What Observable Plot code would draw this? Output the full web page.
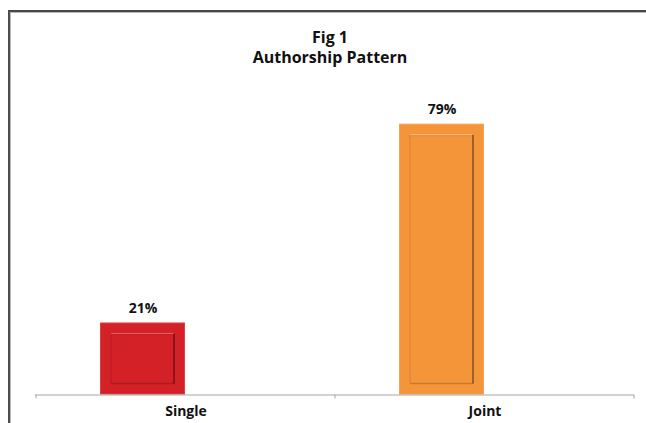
<!DOCTYPE html>
<html>
<head>
<meta charset="utf-8">
<script src="https://cdn.jsdelivr.net/npm/d3@7"></script>
<script src="https://cdn.jsdelivr.net/npm/@observablehq/plot@0.6"></script>
<style>
  html, body { margin: 0; padding: 0; background: #fff; overflow: hidden; }
  body { width: 646px; height: 423px; position: relative; font-family: "Open Sans", sans-serif; }
  #frame { position: absolute; left: 8px; top: 10px; width: 700px; height: 500px;
           border-top: 2px solid #474747; border-left: 2px solid #4d4d4d;
           box-shadow: inset 1px 1px 0 #b8b8b8; }
  #title { position: absolute; left: 0; top: 27px; width: 660px; text-align: center;
           font-weight: bold; font-size: 16px; line-height: 20px; color: #111; }
  #chart { position: absolute; left: 0; top: 0; }
</style>
</head>
<body>
<div id="frame"></div>
<div id="title">Fig 1<br>Authorship Pattern</div>
<div id="chart"></div>
<script>
const categories = ["Single", "Joint"];
const values = [21, 79];
const colors = ["#D42027", "#F5953A"];
const yMax = 90;

const data = categories.map((c, i) => ({category: c, value: values[i], color: colors[i]}));

const insetL = 64, insetR = 150, bevel = 11;

function bandW(x) {
  return typeof x.bandwidth === "function" ? x.bandwidth() : x.bandwidth;
}

function boundaryTicks(index, scales) {
  const x = scales.x;
  const bw = bandW(x);
  const y0 = scales.y(0);
  const edges = [...categories.map(c => x(c)), x(categories[categories.length - 1]) + bw];
  const g = d3.create("svg:g");
  g.selectAll("line").data(edges).join("line")
    .attr("x1", d => d).attr("x2", d => d)
    .attr("y1", y0).attr("y2", y0 + 4)
    .attr("stroke", "#a6a6a6");
  return g.node();
}

// bevelled inner edges of each bar, placed through the scales
function bevelEdges(index, scales) {
  const x = scales.x, y = scales.y;
  const g = d3.create("svg:g");
  for (const d of data) {
    const l = x(d.category) + insetL + bevel;
    const r = x(d.category) + bandW(x) - insetR - bevel;
    const t = y(d.value) + bevel;
    const b = y(0) - bevel;
    const edges = [
      {x1: l, y1: t, x2: r, y2: t, s: "#fff", o: 0.3, w: 1.2},
      {x1: l, y1: t + 1, x2: r, y2: t + 1, s: "#000", o: 0.08, w: 1},
      {x1: l, y1: t, x2: l, y2: b, s: "#000", o: 0.12, w: 1},
      {x1: l, y1: b, x2: r, y2: b, s: "#000", o: 0.18, w: 1.5},
      {x1: r, y1: t, x2: r, y2: b, s: "#000", o: 0.35, w: 2}
    ];
    g.append("g").selectAll("line").data(edges).join("line")
      .attr("x1", e => e.x1).attr("y1", e => e.y1).attr("x2", e => e.x2).attr("y2", e => e.y2)
      .attr("stroke", e => e.s).attr("stroke-opacity", e => e.o).attr("stroke-width", e => e.w);
  }
  return g.node();
}

const chart = Plot.plot({
  width: 646,
  height: 423,
  marginLeft: 35,
  marginRight: 12,
  marginTop: 86,
  marginBottom: 28.5,
  style: {fontFamily: "Open Sans", fontWeight: "bold", fontSize: "14px", color: "#111", background: "transparent", overflow: "visible"},
  x: {domain: categories, padding: 0, label: null},
  y: {domain: [0, yMax], axis: null},
  marks: [
    Plot.barY(data, {x: "category", y: "value", fill: "color", insetLeft: insetL, insetRight: insetR}),
    Plot.barY(data, {x: "category", y: "value", fill: "none", stroke: "#fff", strokeOpacity: 0.15, strokeWidth: 1,
      insetLeft: insetL + 0.5, insetRight: insetR + 0.5, insetTop: 0.5, insetBottom: 0.5}),
    bevelEdges,
    Plot.ruleY([0], {stroke: "#a6a6a6"}),
    boundaryTicks,
    Plot.text(data, {x: "category", y: "value", text: d => d.value + "%", dx: (insetL - insetR) / 2, dy: -10,
      lineAnchor: "bottom", fontSize: 14, fontWeight: "bold", fill: "#111"}),
    Plot.axisX({tickSize: 0, tickPadding: 11, fontSize: 14, fontWeight: "bold", fill: "#111", label: null})
  ]
});
document.getElementById("chart").appendChild(chart);
</script>
</body>
</html>
